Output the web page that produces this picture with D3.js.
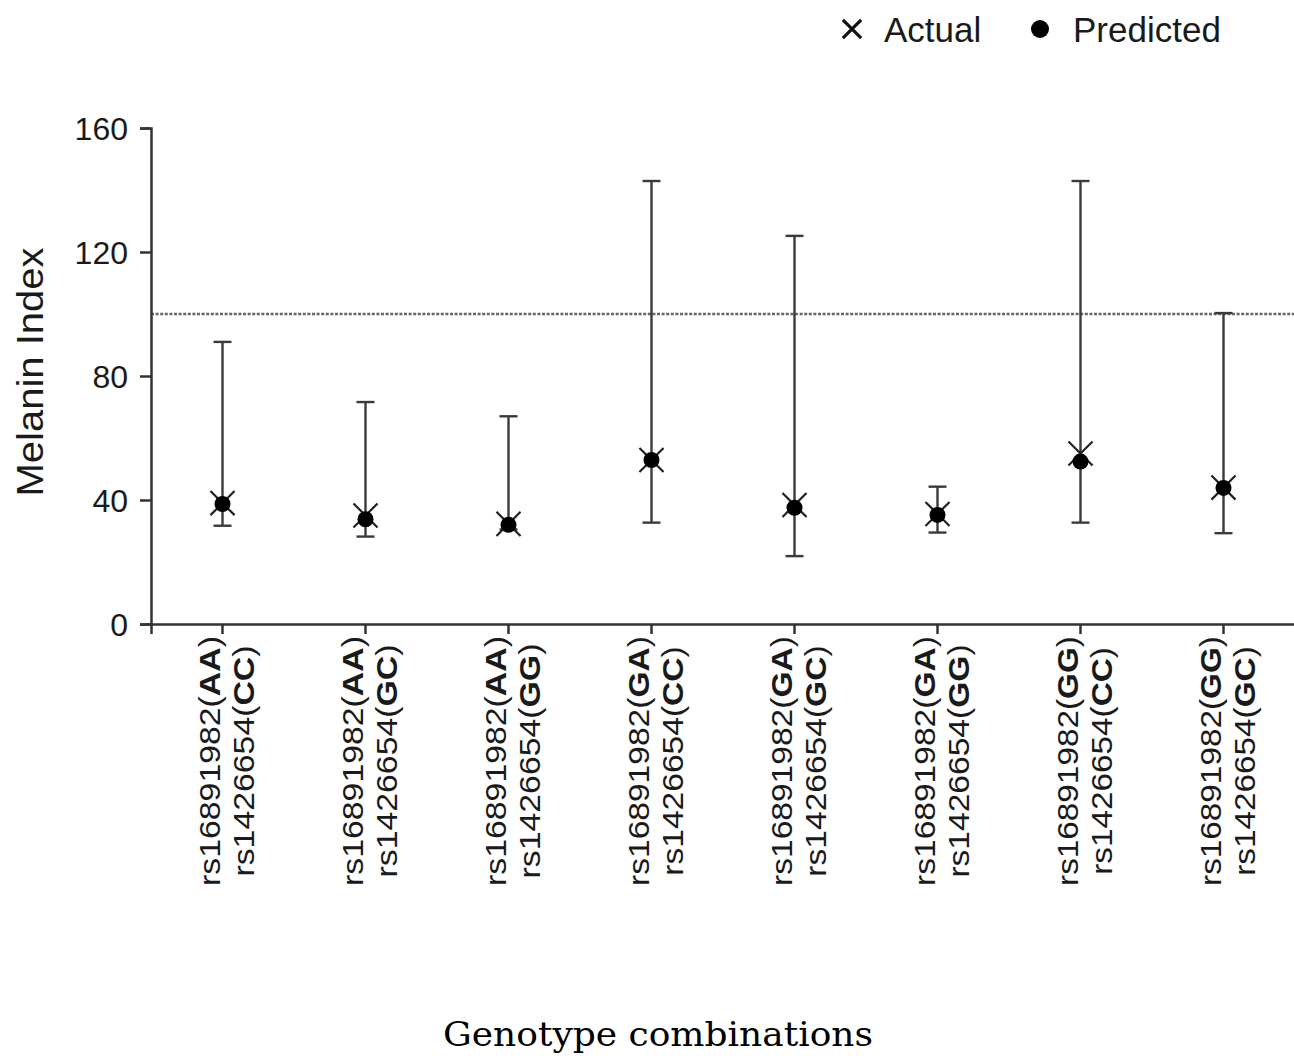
<!DOCTYPE html>
<html>
<head>
<meta charset="utf-8">
<script src="https://cdn.jsdelivr.net/npm/d3@7"></script>
<style>
  body { margin: 0; background: #fff; }
  svg { display: block; }
  text { font-family: 'Liberation Sans', Arial, sans-serif; fill: #1a1a1a; }
</style>
</head>
<body>
<div class="canvas"></div>
<script>
// data
const snp1 = ['AA', 'AA', 'AA', 'GA', 'GA', 'GA', 'GG', 'GG']
const snp2 = ['CC', 'GC', 'GG', 'CC', 'GC', 'GG', 'CC', 'GC']
const predicted = [38.7, 33.8, 32, 52.9, 37.5, 35.2, 52.4, 43.9]
const actual = [39, 35, 32.3, 52.9, 38.4, 35.5, 55, 44]
const upper = [91, 71.6, 67, 142.9, 125.2, 44.3, 142.9, 100.3]
const lower = [31.7, 28.2, 30.5, 32.7, 21.9, 29.5, 32.7, 29.3]
const refLine = 100
const yTicks = [0, 40, 80, 120, 160]

const width = 1294
const height = 1059
const margin = { top: 128, right: 0, bottom: 435, left: 151 }
const graphWidth = width - margin.left - margin.right
const graphHeight = height - margin.top - margin.bottom

const data = snp1.map((s, i) => ({
  id: i,
  snp1: s,
  snp2: snp2[i],
  predicted: predicted[i],
  actual: actual[i],
  upper: upper[i],
  lower: lower[i]
}))

const svg = d3
  .select('.canvas')
  .append('svg')
  .attr('width', width)
  .attr('height', height)

const graph = svg
  .append('g')
  .attr('transform', `translate(${margin.left},${margin.top})`)

// Scales
const x = d3
  .scaleBand()
  .domain(data.map(d => d.id))
  .range([0, graphWidth + 1])
const y = d3.scaleLinear().domain([0, 160]).range([graphHeight, 0])
const cx = d => x(d.id) + x.bandwidth() / 2

// Reference line
graph
  .append('line')
  .attr('x1', 0)
  .attr('x2', graphWidth)
  .attr('y1', y(refLine))
  .attr('y2', y(refLine))
  .attr('stroke', '#666')
  .attr('stroke-width', 2.5)
  .attr('stroke-dasharray', '3,1.6')

// Error bars
const bars = graph.append('g').attr('class', 'bars')
bars
  .selectAll('line.whisker')
  .data(data)
  .enter()
  .append('line')
  .attr('class', 'whisker')
  .attr('x1', cx)
  .attr('x2', cx)
  .attr('y1', d => y(d.upper))
  .attr('y2', d => y(d.lower))
  .attr('stroke', '#3a3a3a')
  .attr('stroke-width', 2.4)

const caps = ['upper', 'lower']
caps.forEach(k => {
  bars
    .selectAll('line.cap-' + k)
    .data(data)
    .enter()
    .append('line')
    .attr('class', 'cap-' + k)
    .attr('x1', d => cx(d) - 9)
    .attr('x2', d => cx(d) + 9)
    .attr('y1', d => y(d[k]))
    .attr('y2', d => y(d[k]))
    .attr('stroke', '#3a3a3a')
    .attr('stroke-width', 2.4)
})

// Actual (x marks)
const cross = d3.symbol().type(d3.symbolX).size(380)
graph
  .selectAll('path.actual')
  .data(data)
  .enter()
  .append('path')
  .attr('class', 'actual')
  .attr('d', cross)
  .attr('transform', d => `translate(${cx(d)},${y(d.actual)})`)
  .attr('fill', 'none')
  .attr('stroke', '#222')
  .attr('stroke-width', 2.2)

// Predicted (dots)
graph
  .selectAll('circle.predicted')
  .data(data)
  .enter()
  .append('circle')
  .attr('class', 'predicted')
  .attr('cx', cx)
  .attr('cy', d => y(d.predicted))
  .attr('r', 8)
  .attr('fill', '#000')

// Axes
const yAxis = d3
  .axisLeft(y)
  .tickValues(yTicks)
  .tickSize(11)
  .tickPadding(12)
const yAxisGroup = graph.append('g').attr('class', 'y-axis').call(yAxis)
yAxisGroup.select('.domain').attr('stroke', '#333').attr('stroke-width', 2.5)
yAxisGroup.selectAll('.tick line').attr('stroke', '#333').attr('stroke-width', 2.5)
yAxisGroup
  .selectAll('.tick text')
  .attr('font-size', 32)
  .attr('dy', '0.36em')

const xAxis = d3
  .axisBottom(x)
  .tickSize(10)
  .tickFormat('')
const xAxisGroup = graph
  .append('g')
  .attr('class', 'x-axis')
  .attr('transform', `translate(0, ${graphHeight})`)
  .call(xAxis)
xAxisGroup.select('.domain').attr('stroke', '#333').attr('stroke-width', 2.5)
xAxisGroup.selectAll('.tick line').attr('stroke', '#333').attr('stroke-width', 2.5)

// Rotated two-line tick labels with bold genotypes
const labelGroup = xAxisGroup.append('g').attr('class', 'x-labels')
const addLine = (g, prefix, geno) => {
  const t = g
    .append('text')
    .attr('text-anchor', 'middle')
    .attr('font-size', 29)
  t.append('tspan').text(prefix + '(')
  t.append('tspan').attr('font-weight', 'bold').text(geno)
  t.append('tspan').text(')')
  return t
}
data.forEach(d => {
  const g = labelGroup
    .append('g')
    .attr('transform', `translate(${cx(d)},137) rotate(-90)`)
  const l1 = addLine(g, 'rs16891982', d.snp1).attr('y', -3)
  addLine(g, 'rs1426654', d.snp2).attr('y', 32)
  const s = 250 / l1.node().getComputedTextLength()
  g.selectAll('text').attr('transform', `scale(${s},1)`)
})

// Y label
svg
  .append('text')
  .attr('transform', 'translate(43,372) rotate(-90)')
  .attr('text-anchor', 'middle')
  .attr('font-size', 37)
  .attr('textLength', 249)
  .attr('lengthAdjust', 'spacingAndGlyphs')
  .text('Melanin Index')

// X title
svg
  .append('text')
  .attr('x', 658)
  .attr('y', 1046)
  .attr('text-anchor', 'middle')
  .attr('font-size', 33)
  .attr('textLength', 430)
  .attr('lengthAdjust', 'spacingAndGlyphs')
  .style('font-family', "'DejaVu Serif', 'Liberation Serif', serif")
  .style('fill', '#000')
  .text('Genotype combinations')

// Legend
const legend = svg.append('g').attr('class', 'legend')
legend
  .append('path')
  .attr('d', d3.symbol().type(d3.symbolX).size(220))
  .attr('transform', 'translate(852,29)')
  .attr('fill', 'none')
  .attr('stroke', '#111')
  .attr('stroke-width', 3.2)
legend
  .append('text')
  .attr('x', 884)
  .attr('y', 42)
  .attr('font-size', 35)
  .text('Actual')
legend
  .append('circle')
  .attr('cx', 1040)
  .attr('cy', 29)
  .attr('r', 9)
  .attr('fill', '#000')
legend
  .append('text')
  .attr('x', 1073)
  .attr('y', 42)
  .attr('font-size', 35)
  .text('Predicted')
</script>
</body>
</html>
